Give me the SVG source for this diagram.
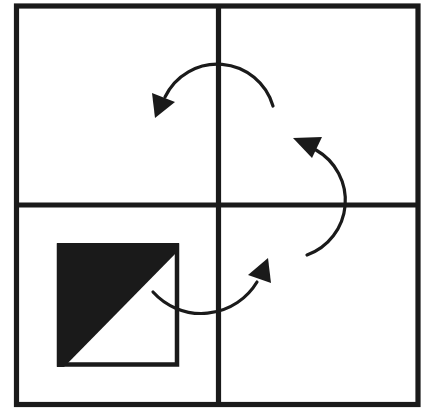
<svg xmlns="http://www.w3.org/2000/svg" width="423" height="411" viewBox="0 0 423 411">
<style>
.grid{fill:none;stroke:#1a1a1a;stroke-width:5.2}
.arc{fill:none;stroke:#1a1a1a;stroke-width:3.2;stroke-linecap:round}
.head{fill:#1a1a1a}
</style>
<rect width="423" height="411" fill="#ffffff"/>
<g id="grid">
<rect class="grid" x="16.5" y="6" width="401.5" height="398.5"/>
<line class="grid" x1="218.5" y1="6" x2="218.5" y2="404.5"/>
<line class="grid" x1="14" y1="205" x2="418" y2="205"/>
</g>
<g id="square">
<rect x="59" y="245.5" width="118" height="119" fill="#ffffff" stroke="#1a1a1a" stroke-width="4.5"/>
<polygon points="57,243 179,243 179,250 64,367 57,367" fill="#1a1a1a"/>
</g>
<g id="connectors">
<path class="arc" d="M273,106 A58,58 0 0 0 165,97"/>
<polygon class="head" points="155,118 152,93 175,102"/>
<path class="arc" d="M307,255 A58,58 0 0 0 316,150"/>
<polygon class="head" points="293,138 322,137 312,158"/>
<path class="arc" d="M153,292 A65,65 0 0 0 257,282"/>
<polygon class="head" points="268,258 248,275 271,283"/>
</g>
</svg>
